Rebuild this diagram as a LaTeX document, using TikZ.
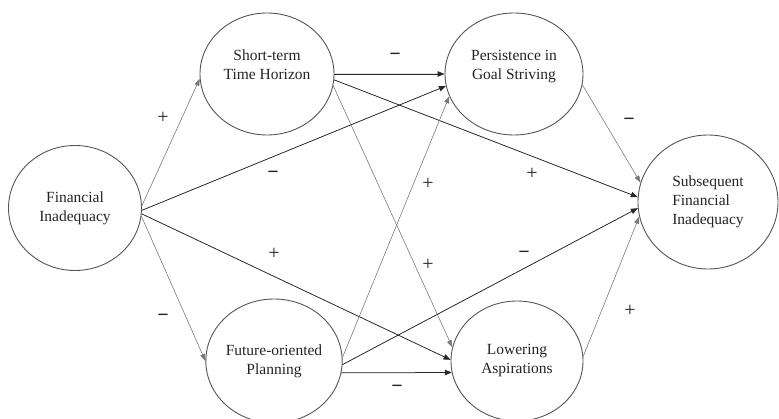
\documentclass[tikz,border=0pt]{standalone}
\usepackage{fontspec}
\setmainfont{Liberation Serif}
\usepackage{xcolor}
\usetikzlibrary{shapes.geometric}
\usetikzlibrary{arrows.meta}
\definecolor{edgedark}{RGB}{40, 40, 40}
\definecolor{edgegrey}{RGB}{120, 120, 120}
\definecolor{rim}{RGB}{85, 85, 85}
\definecolor{inkgrey}{RGB}{35, 35, 35}
\tikzset{
construct/.style 2 args={
	draw=rim, line width=0.9pt, ellipse, align=center, inner sep=0pt,
	minimum width=#1, minimum height=#2, text=inkgrey,
	font=\fontsize{15.5}{19}\selectfont
},
raised/.style={text depth=19pt},
darkpath/.style={
	-{Triangle[length=7pt,width=5.5pt]}, draw=edgedark, fill=edgedark, line width=0.75pt
},
greypath/.style={
	-{Triangle[length=7pt,width=5pt]}, draw=edgegrey, fill=edgegrey, line width=0.5pt
},
}

\begin{document}
\begin{tikzpicture}[x=1pt, y=-1pt]
\tikzstyle{sign}=[font=\fontsize{20}{20}\selectfont, inner sep=0pt, text=inkgrey]
\useasboundingbox (0,0) rectangle (779,419);
%Place the nodes
\node[construct={133pt}{125pt}] (fi) at (75,208) {Financial\\Inadequacy};
\node[construct={134pt}{122pt}, raised] (st) at (267,74) {Short-term\\Time Horizon};
\node[construct={136pt}{124pt}] (fo) at (274,361) {Future-oriented\\Planning};
\node[construct={138pt}{122pt}, raised] (ps) at (514,74) {Persistence in\\Goal Striving};
\node[construct={132pt}{120pt}] (lw) at (517,361) {Lowering\\Aspirations};
\node[construct={140pt}{134pt}, align=left] (sf) at (708,202) {Subsequent\\Financial\\Inadequacy};

%
\draw[greypath] (fi.2) to (st.184);
\draw[greypath] (fi.-7) to (fo.west);
\draw[darkpath] (fi.-2) to (ps.190);
\draw[darkpath] (fi.-5) to (lw.179);

%
\draw[darkpath] (st.east) to (ps.west);
\draw[darkpath] (st.-5) to (sf.176);
\draw[greypath] (st.-10) to (lw.168);

%
\draw[greypath] (fo.3) to (ps.199);
\draw[darkpath] (fo.-3) to (sf.185);
\draw[darkpath] (fo.-10) to (lw.190);

%
\draw[greypath] (ps.-9) to (sf.164);
\draw[greypath] (lw.4) to (sf.192);

%Signs on the paths
\node[sign] (s1) at (163,118) {+};
\node[sign] (s2) at (163,318) {\bfseries −};
\node[sign] (s3) at (395,57) {\bfseries −};
\node[sign] (s4) at (273,175) {\bfseries −};
\node[sign] (s5) at (274,254) {+};
\node[sign] (s6) at (532,174) {+};
\node[sign] (s7) at (428,184) {+};
\node[sign] (s8) at (428,265) {+};
\node[sign] (s9) at (524,255) {\bfseries −};
\node[sign] (s10) at (397,389) {\bfseries −};
\node[sign] (s11) at (629,122) {\bfseries −};
\node[sign] (s12) at (630,311) {+};

\end{tikzpicture}
\end{document}
